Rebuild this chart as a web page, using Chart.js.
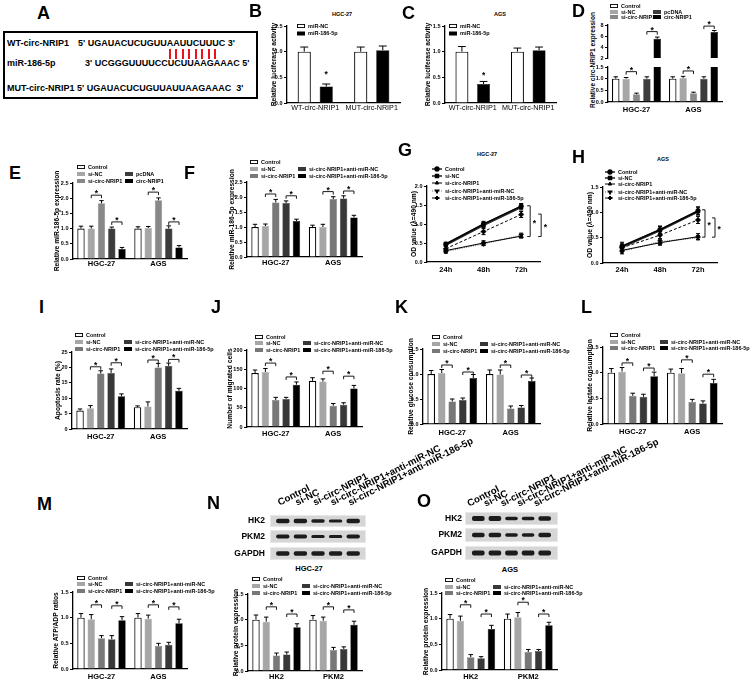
<!DOCTYPE html>
<html><head><meta charset="utf-8">
<script src="https://cdn.jsdelivr.net/npm/chart.js@4.4.1/dist/chart.umd.min.js"></script>
<style>
html,body{margin:0;padding:0;background:#fff}
body{position:relative;width:753px;height:682px;overflow:hidden;font-family:"Liberation Sans",Arial,sans-serif;color:#000}
canvas{position:absolute}
.lt{position:absolute;font-weight:bold;font-size:18px;line-height:18px}
.tt{position:absolute;font-weight:bold;font-size:5.5px;line-height:6px;transform:translate(-50%,-50%);white-space:nowrap}
#boxA{position:absolute;left:3px;top:31px;width:251px;height:64px;border:2px solid #000}
.sq{position:absolute;font-weight:bold;font-size:9px;line-height:9px;white-space:nowrap}
.pr{position:relative;display:inline-block}
.pr::after{content:"";position:absolute;left:50%;margin-left:-1px;top:9.5px;width:2px;height:10.5px;background:#e8141c}
</style></head><body>
<div id="boxA"></div>
<div class="sq" style="left:7px;top:39px">WT-circ-NRIP1</div>
<div class="sq" style="left:78px;top:39px">5' UGAUACUCUGUU<span class="pr">A</span><span class="pr">A</span><span class="pr">U</span><span class="pr">U</span><span class="pr">C</span><span class="pr">U</span><span class="pr">U</span><span class="pr">U</span>C 3'</div>
<div class="sq" style="left:7px;top:59px">miR-186-5p</div>
<div class="sq" style="left:85px;top:59px">3' UCGGGUUUUCCUCUUAAGAAAC 5'</div>
<div class="sq" style="left:7px;top:83.5px">MUT-circ-NRIP1</div>
<div class="sq" style="left:77px;top:83.5px">5' UGAUACUCUGUUAUUAAGAAAC&nbsp; 3'</div>

<div class="tt" style="left:342px;top:14px">HGC-27</div>
<div class="tt" style="left:500px;top:14px">AGS</div>
<div class="tt" style="left:487px;top:154px">HGC-27</div>
<div class="tt" style="left:663px;top:159px">AGS</div>
<div class="tt" style="left:593px;top:60px;font-size:6.5px;transform:translate(-50%,-50%) rotate(-90deg)">Relative circ-NRIP1 expression</div>
<div class="tt" style="left:309px;top:568.5px;font-size:7.5px;line-height:8px">HGC-27</div>
<div class="tt" style="left:510px;top:569.5px;font-size:7.5px;line-height:8px">AGS</div>

<script>
// ================= DATA =================
const lucGroups = ['WT-circ-NRIP1','MUT-circ-NRIP1'];
const lucSeries = ['miR-NC','miR-186-5p'];
const cells = ['HGC-27','AGS'];
const proteins = ['HK2','PKM2'];
const times = ['24h','48h','72h'];
const seriesD = ['Control','si-NC','si-circ-NRIP1','pcDNA','circ-NRIP1'];
const seriesR = ['Control','si-NC','si-circ-NRIP1','si-circ-NRIP1+anti-miR-NC','si-circ-NRIP1+anti-miR-186-5p'];

// tick labels
const yt_luc = [0,0.5,1,1.5];
const yt_Dtop = [2,4,6,8];
const yt_Dbot = [0,0.5,1,1.5];
const yt_E = [0,0.5,1,1.5,2,2.5];
const yt_G = [0,0.5,1,1.5,2];
const yt_H = [0,0.5,1,1.5];
const yt_I = [0,5,10,15,20,25];
const yt_J = [0,50,100,150,200];
const yt_15 = [0,0.5,1,1.5];

// values: one row per series, one column per group
const B_vals = [[1.00,1.00],[0.32,1.03]];
const B_errs = [[0.09,0.09],[0.05,0.08]];
const C_vals = [[1.00,1.00],[0.37,1.03]];
const C_errs = [[0.10,0.07],[0.05,0.06]];
const D_vals = [[1.00,1.00],[1.00,1.03],[0.33,0.38],[1.00,1.00],[5.50,6.75]];
const D_errs = [[0.08,0.08],[0.05,0.07],[0.05,0.04],[0.08,0.08],[0.30,0.25]];
const E_vals = [[1.00,1.00],[1.00,1.02],[1.83,1.93],[1.00,1.00],[0.33,0.38]];
const E_errs = [[0.08,0.06],[0.08,0.05],[0.09,0.08],[0.05,0.09],[0.05,0.06]];
const F_vals = [[1.00,1.00],[1.03,1.00],[1.82,1.93],[1.80,1.95],[1.20,1.32]];
const F_errs = [[0.09,0.06],[0.07,0.09],[0.10,0.08],[0.07,0.09],[0.06,0.07]];
const G_vals = [[0.47,1.00,1.47],[0.46,0.98,1.45],[0.30,0.50,0.68],[0.28,0.48,0.70],[0.35,0.80,1.25]];
const G_errs = [[0.05,0.07,0.07],[0.05,0.07,0.08],[0.05,0.06,0.05],[0.05,0.05,0.06],[0.07,0.08,0.08]];
const H_vals = [[0.33,0.66,1.03],[0.32,0.65,1.02],[0.25,0.40,0.52],[0.23,0.42,0.50],[0.30,0.55,0.85]];
const H_errs = [[0.08,0.07,0.08],[0.07,0.07,0.07],[0.05,0.05,0.06],[0.05,0.05,0.04],[0.06,0.07,0.07]];
const I_vals = [[6.0,7.1],[6.7,7.3],[18.0,20.0],[18.2,20.5],[10.6,12.4]];
const I_errs = [[0.5,0.4],[0.9,1.5],[0.9,1.3],[1.3,0.9],[0.8,0.8]];
const J_vals = [[140,120],[143,118],[70,55],[73,58],[110,100]];
const J_errs = [[8,8],[9,7],[7,6],[4,5],[7,8]];
const K_vals = [[1.00,1.00],[1.02,0.99],[0.45,0.31],[0.48,0.33],[0.92,0.86]];
const K_errs = [[0.07,0.08],[0.07,0.09],[0.05,0.05],[0.04,0.04],[0.07,0.06]];
const L_vals = [[1.00,1.00],[1.02,0.99],[0.55,0.43],[0.53,0.40],[0.93,0.80]];
const L_errs = [[0.08,0.07],[0.08,0.09],[0.05,0.05],[0.05,0.05],[0.08,0.07]];
const M_vals = [[1.00,1.00],[0.97,0.98],[0.60,0.45],[0.58,0.47],[0.95,0.89]];
const M_errs = [[0.08,0.08],[0.09,0.07],[0.05,0.05],[0.07,0.05],[0.07,0.08]];
const N_vals = [[1.00,1.00],[0.96,0.98],[0.30,0.41],[0.32,0.43],[0.85,0.90]];
const N_errs = [[0.09,0.08],[0.09,0.07],[0.05,0.05],[0.05,0.04],[0.07,0.07]];
const O_vals = [[1.00,1.00],[0.96,1.03],[0.25,0.35],[0.23,0.37],[0.80,0.87]];
const O_errs = [[0.08,0.09],[0.09,0.09],[0.05,0.05],[0.03,0.03],[0.07,0.06]];

// significance brackets: [group, seriesA, seriesB, value]
const D_brTop = [[0,3,4,6.8],[1,3,4,7.8]];
const D_brBot = [[0,1,2,1.3],[1,1,2,1.33]];
const E_br = [[0,1,2,2.1],[0,3,4,1.22],[1,1,2,2.2],[1,3,4,1.22]];
const F_br = [[0,1,2,2.1],[0,3,4,2.04],[1,1,2,2.18],[1,3,4,2.2]];
const I_br = [[0,1,2,20.2],[0,3,4,21.5],[1,1,2,22.4],[1,3,4,22.6]];
const J_br = [[0,1,2,166],[0,3,4,130],[1,1,2,145],[1,3,4,132]];
const K_br = [[0,1,2,1.18],[0,3,4,1.04],[1,1,2,1.18],[1,3,4,0.98]];
const L_br = [[0,1,2,1.19],[0,3,4,1.09],[1,1,2,1.25],[1,3,4,0.97]];
const M_br = [[0,1,2,1.25],[0,3,4,1.23],[1,1,2,1.25],[1,3,4,1.21]];
const N_br = [[0,1,2,1.25],[0,3,4,1.11],[1,1,2,1.25],[1,3,4,1.19]];
const O_br = [[0,1,2,1.27],[0,3,4,1.09],[1,1,2,1.32],[1,3,4,1.09]];
// single stars: [group, series, value]
const B_star = [[0,1,0.6]];
const C_star = [[0,1,0.58]];
// vertical brackets on line charts: [offset px, from value, to value]
const G_vb = [[9,1.48,0.67],[20,1.26,0.67]];
const H_vb = [[7,1.05,0.51],[17,0.89,0.51]];

// western blot band thickness per lane
const N_HK2 = [0.38,0.38,0.28,0.26,0.36];
const N_PKM2 = [0.32,0.30,0.24,0.24,0.32];
const N_GAPDH = [0.34,0.34,0.34,0.34,0.34];
const O_HK2 = [0.38,0.38,0.28,0.28,0.36];
const O_PKM2 = [0.32,0.32,0.24,0.26,0.32];
const O_GAPDH = [0.34,0.34,0.34,0.34,0.34];

// ================= STYLE =================
const lucColors = ['#ffffff','#000000'];
const dColors = ['#ffffff','#a6a6a6','#888888','#3c3c3c','#000000'];
const rColors = ['#ffffff','#a6a6a6','#787878','#383838','#000000'];
const lineStyles = [
  {borderColor:'#000', borderWidth:1.3, pointStyle:'circle', pointRadius:2.3},
  {borderColor:'#2a2a2a', borderWidth:2.6, pointStyle:'rect', pointRadius:2.6},
  {borderColor:'#000', borderWidth:1, pointStyle:'triangle', pointRadius:2.7},
  {borderColor:'#666', borderWidth:1.2, borderDash:[1,1.3], pointStyle:'triangle', pointRotation:180, pointRadius:2.7},
  {borderColor:'#000', borderWidth:1, borderDash:[3,2], pointStyle:'rectRot', pointRadius:2.7}
];
const FAM = "'Liberation Sans', Arial, sans-serif";
Chart.defaults.font.family = FAM;
Chart.defaults.color = '#000';

function mk(x,y,w,h){
  const c=document.createElement('canvas'); c.width=w; c.height=h;
  c.style.left=x+'px'; c.style.top=y+'px'; c.style.width=w+'px'; c.style.height=h+'px';
  document.body.appendChild(c); return c;
}
function drawStar(ctx,x,yc){
  ctx.save(); ctx.fillStyle='#000'; ctx.font='bold 8.5px '+FAM; ctx.textAlign='center'; ctx.textBaseline='alphabetic';
  ctx.fillText('*',x,yc+4.6); ctx.restore();
}
const deco = {
  id:'deco',
  afterDatasetsDraw(chart){
    const o = chart.options.plugins.deco; if(!o) return;
    const ctx = chart.ctx, ca = chart.chartArea, ys = chart.scales.y;
    ctx.save();
    ctx.beginPath(); ctx.rect(ca.left-30, ca.top-0.5, ca.right-ca.left+60, ca.bottom-ca.top+0.5); ctx.clip();
    ctx.strokeStyle='#000'; ctx.lineWidth=1;
    (o.errors||[]).forEach((arr,di)=>{
      const meta = chart.getDatasetMeta(di), vals = chart.data.datasets[di].data;
      meta.data.forEach((el,i)=>{
        const v = vals[i], e = arr[i], x = el.x;
        const yt = ys.getPixelForValue(v+e);
        const cw = o.both ? 4 : el.width*0.6;
        ctx.beginPath();
        if(o.both){ const yb = ys.getPixelForValue(v-e); ctx.moveTo(x,yb); ctx.lineTo(x,yt); ctx.moveTo(x-cw/2,yb); ctx.lineTo(x+cw/2,yb); }
        else { ctx.moveTo(x,el.y); ctx.lineTo(x,yt); }
        ctx.moveTo(x-cw/2,yt); ctx.lineTo(x+cw/2,yt);
        ctx.stroke();
      });
    });
    ctx.restore();
    ctx.save(); ctx.strokeStyle='#000'; ctx.lineWidth=0.9;
    (o.brackets||[]).forEach(([g,a,b,v])=>{
      const xa = chart.getDatasetMeta(a).data[g].x, xb = chart.getDatasetMeta(b).data[g].x;
      const y = ys.getPixelForValue(v);
      ctx.beginPath(); ctx.moveTo(xa,y+3); ctx.lineTo(xa,y); ctx.lineTo(xb,y); ctx.lineTo(xb,y+3); ctx.stroke();
      drawStar(ctx,(xa+xb)/2,y-3.6);
    });
    (o.stars||[]).forEach(([g,d,v])=>{
      drawStar(ctx, chart.getDatasetMeta(d).data[g].x, ys.getPixelForValue(v));
    });
    (o.vb||[]).forEach(([off,v1,v2])=>{
      const pts = chart.getDatasetMeta(0).data; const x = pts[pts.length-1].x + off;
      const y1 = ys.getPixelForValue(v1), y2 = ys.getPixelForValue(v2);
      ctx.beginPath(); ctx.moveTo(x-3,y1); ctx.lineTo(x,y1); ctx.lineTo(x,y2); ctx.lineTo(x-3,y2); ctx.stroke();
      ctx.fillStyle='#000'; ctx.font='bold 8.5px '+FAM; ctx.textAlign='left'; ctx.textBaseline='alphabetic';
      ctx.fillText('*', x+2.5, (y1+y2)/2+4.6);
    });
    ctx.restore();
  },
  afterDraw(chart){
    const o = chart.options.plugins.deco; if(!o || !o.legend) return;
    const ctx = chart.ctx, [ox,oy] = o.origin;
    ctx.save();
    ctx.font='bold 5.5px '+FAM; ctx.textBaseline='middle'; ctx.textAlign='left';
    o.legend.forEach(([di,px,py])=>{
      const ds = chart.data.datasets[di]; const x = px-ox, y = py-oy;
      if(o.kind==='line'){
        ctx.save(); ctx.strokeStyle = ds.borderColor; ctx.lineWidth = Math.min(ds.borderWidth,1.6);
        ctx.setLineDash(ds.borderDash||[]); ctx.beginPath(); ctx.moveTo(x-5,y); ctx.lineTo(x+5,y); ctx.stroke();
        ctx.setLineDash([]); ctx.fillStyle='#000'; ctx.strokeStyle='#000';
        Chart.helpers.drawPoint(ctx,{pointStyle:ds.pointStyle, rotation:ds.pointRotation||0, radius:2, borderWidth:0.5},x,y);
        ctx.restore();
        ctx.fillStyle='#000'; ctx.fillText(ds.label, x+8, y);
      } else {
        ctx.fillStyle = ds.backgroundColor; ctx.fillRect(x,y-2,8,4);
        if(di===0){ ctx.strokeStyle='#000'; ctx.lineWidth=0.9; ctx.strokeRect(x+0.45,y-1.55,7.1,3.1); }
        ctx.fillStyle='#000'; ctx.fillText(ds.label, x+11, y);
      }
    });
    ctx.restore();
  }
};
function yAxis(ticksArr, dec, title, W){
  return {
    type:'linear', min:ticksArr[0], max:ticksArr[ticksArr.length-1],
    afterBuildTicks: s => { s.ticks = ticksArr.map(v=>({value:v})); },
    afterFit: s => { s.width = W; s.paddingTop = 0; s.paddingBottom = 0; },
    ticks:{font:{size:5.5, weight:'bold'}, color:'#000', padding:1.5, callback:v=>Number(v).toFixed(dec)},
    grid:{display:true, drawOnChartArea:false, drawTicks:true, tickLength:3, color:'#000', lineWidth:1},
    border:{display:true, color:'#000', width:1.3},
    title: title ? {display:true, text:title, font:{size:6.7, weight:'bold'}, color:'#000', padding:0} : {display:false}
  };
}
function xAxis(font, xo, Hx, display){
  return {
    type:'category', offset:true, display:display,
    afterFit: s => { if(display) s.height = Hx; s.paddingLeft = 0; s.paddingRight = 0; },
    grid:{display:false, drawTicks:false}, border:{display:true, color:'#000', width:1.3},
    ticks:{font:font, color:'#000', padding:xo - font.size*0.6, maxRotation:0, minRotation:0, autoSkip:false}
  };
}
function geom(p){
  const W = p.yl != null ? Math.round(p.L - (p.yl - 4)) : (p.W || 22);
  const cx = p.L - W;
  const padTop = p.padTop ?? 40, padRight = p.padRight ?? 70, padBottom = p.padBottom ?? 14;
  const Hx = p.xDisplay === false ? 0 : 14;
  const cy = p.T - padTop;
  return {W, cx, cy, padTop, padRight, padBottom, Hx, w: p.R - cx + padRight, h: p.B - cy + Hx + padBottom};
}
function barPanel(p){
  const g = geom(p);
  const cv = mk(g.cx, g.cy, g.w, g.h);
  const datasets = p.series.map((name,i)=>({
    label:name, data:p.vals[i], backgroundColor:p.colors[i],
    borderColor: i===0 ? '#000' : p.colors[i], borderWidth: i===0 ? 1.2 : 0.5,
    borderSkipped:'start', categoryPercentage:p.cat ?? 0.9, barPercentage:p.bar ?? 0.72
  }));
  new Chart(cv, {
    type:'bar', data:{labels:p.labels, datasets},
    options:{
      responsive:false, animation:false, events:[],
      layout:{padding:{top:g.padTop, right:g.padRight, bottom:g.padBottom, left:0}},
      plugins:{legend:{display:false}, tooltip:{enabled:false},
        deco:{errors:p.errs, brackets:p.brackets, stars:p.stars, legend:p.legend, kind:'box', origin:[g.cx,g.cy]}},
      scales:{
        x: xAxis(p.xfont || {size:7.5, weight:'bold'}, p.xo ?? 7.5, g.Hx, p.xDisplay !== false),
        y: yAxis(p.ticks, p.dec ?? 1, p.title, g.W)
      }
    },
    plugins:[deco]
  });
}
function linePanel(p){
  const g = geom(p);
  const cv = mk(g.cx, g.cy, g.w, g.h);
  const datasets = p.series.map((name,i)=>Object.assign({
    label:name, data:p.vals[i], fill:false, tension:0,
    pointBackgroundColor:'#000', pointBorderColor:'#000', pointBorderWidth:0.5
  }, lineStyles[i]));
  new Chart(cv, {
    type:'line', data:{labels:p.labels, datasets},
    options:{
      responsive:false, animation:false, events:[],
      layout:{padding:{top:g.padTop, right:g.padRight, bottom:g.padBottom, left:0}},
      plugins:{legend:{display:false}, tooltip:{enabled:false},
        deco:{errors:p.errs, both:true, vb:p.vb, legend:p.legend, kind:'line', origin:[g.cx,g.cy]}},
      scales:{
        x: xAxis({size:7.5, weight:'bold'}, p.xo ?? 7.5, g.Hx, true),
        y: yAxis(p.ticks, p.dec ?? 1, p.title, g.W)
      }
    },
    plugins:[deco]
  });
}
const stripBg = {
  id:'stripBg',
  beforeDatasetsDraw(chart){
    const ca = chart.chartArea, ctx = chart.ctx, e = chart.options.plugins.stripBg.ext;
    ctx.save(); ctx.fillStyle='#d6d6d6'; ctx.fillRect(ca.left-e, ca.top, ca.right-ca.left+2*e, ca.bottom-ca.top);
    ctx.strokeStyle='#e8e8e8'; ctx.lineWidth=1; ctx.strokeRect(ca.left-e+0.5, ca.top+0.5, ca.right-ca.left+2*e-1, ca.bottom-ca.top-1);
    ctx.restore();
  }
};
function blotStrip(p){
  const W = 45, cx = p.L - W;
  const Hx = p.top ? 92 : 0, padRight = p.top ? 135 : 10, padBottom = 2;
  const cy = p.T - Hx;
  const cv = mk(cx, cy, p.R - cx + padRight, p.B - cy + padBottom);
  new Chart(cv, {
    type:'bar',
    data:{labels:seriesR, datasets:[{data:p.bands.map(t=>[-t,t]), backgroundColor:'#1c1c1c', borderRadius:2, borderSkipped:false, categoryPercentage:1, barPercentage:0.76}]},
    options:{
      responsive:false, animation:false, events:[],
      layout:{padding:{top:0, right:padRight, bottom:padBottom, left:0}},
      plugins:{legend:{display:false}, tooltip:{enabled:false}, stripBg:{ext:p.ext}},
      scales:{
        x:{type:'category', offset:true, display:!!p.top, position:'top',
           afterFit:s=>{ if(p.top) s.height=Hx; s.paddingLeft=0; s.paddingRight=0; },
           grid:{display:false, drawTicks:false}, border:{display:false},
           ticks:{minRotation:27, maxRotation:27, autoSkip:false, padding:p.labelPad||0, labelOffset:p.labelOffset||0, font:{size:9.7, weight:'bold'}, color:'#000'}},
        y:{type:'linear', min:-1, max:1,
           afterBuildTicks:s=>{ s.ticks=[{value:0}]; },
           afterFit:s=>{ s.width=W; s.paddingTop=0; s.paddingBottom=0; },
           ticks:{callback:()=>p.name, font:{size:8.5, weight:'bold'}, color:'#000', padding:p.yPad},
           grid:{display:false, drawTicks:false}, border:{display:false}}
      }
    },
    plugins:[stripBg]
  });
}
const leg5 = (x1,x2,r)=>[[0,x1,r[0]],[1,x1,r[1]],[2,x1,r[2]],[3,x2,r[1]],[4,x2,r[2]]];
const legLine = (x,r)=>r.map((y,i)=>[i,x,y]);

// ================= PANELS =================
barPanel({L:287,T:26,R:400,B:103,yl:274, labels:lucGroups, series:lucSeries, vals:B_vals, errs:B_errs, colors:lucColors,
  cat:0.78, bar:0.6, ticks:yt_luc, dec:1, title:'Relative luciferase activity', xfont:{size:7.2, weight:'normal'}, xo:5.5,
  stars:B_star, legend:[[0,297,26],[1,297,33.5]], padTop:26, padRight:14});
barPanel({L:445,T:26,R:556,B:103,yl:428, labels:lucGroups, series:lucSeries, vals:C_vals, errs:C_errs, colors:lucColors,
  cat:0.78, bar:0.6, ticks:yt_luc, dec:1, title:'Relative luciferase activity', xfont:{size:7.2, weight:'normal'}, xo:5.5,
  stars:C_star, legend:[[0,449,26],[1,449,33.5]], padTop:26, padRight:14});
barPanel({L:608,T:25,R:722,B:58,W:22, xDisplay:false, labels:cells, series:seriesD, vals:D_vals, errs:D_errs, colors:dColors,
  cat:0.91, bar:0.72, ticks:yt_Dtop, dec:0, padTop:25, padBottom:6, padRight:30, brackets:D_brTop, legend:leg5(610,653,[6,12,17])});
barPanel({L:608,T:67,R:722,B:102,W:22, labels:cells, series:seriesD, vals:D_vals, errs:D_errs, colors:dColors,
  cat:0.91, bar:0.72, ticks:yt_Dbot, dec:1, padTop:6, padRight:30, xo:8, brackets:D_brBot});

barPanel({L:73,T:183,R:187,B:259,yl:57, labels:cells, series:seriesD, vals:E_vals, errs:E_errs, colors:dColors,
  ticks:yt_E, dec:1, title:'Relative miR-186-5p expression', xo:5, brackets:E_br, legend:leg5(77,125,[167,174,181])});
barPanel({L:247,T:182,R:362,B:257,yl:232, labels:cells, series:seriesR, vals:F_vals, errs:F_errs, colors:rColors,
  ticks:yt_E, dec:1, title:'Relative miR-186-5p expression', xo:6.3, brackets:F_br, legend:leg5(250,298,[162,169,176])});
linePanel({L:427,T:186,R:540,B:262,yl:414, labels:times, series:seriesR, vals:G_vals, errs:G_errs, ticks:yt_G, dec:1,
  title:'OD value (\u03bb=490 nm)', xo:8, vb:G_vb, legend:legLine(437,[169,176,183,191,198]), padRight:30});
linePanel({L:603,T:187,R:717,B:263,yl:590, labels:times, series:seriesR, vals:H_vals, errs:H_errs, ticks:yt_H, dec:1,
  title:'OD value (\u03bb=490 nm)', xo:7, vb:H_vb, legend:legLine(610,[172,178,184,192,198]), padRight:30});

barPanel({L:72,T:352,R:187,B:429,yl:58, labels:cells, series:seriesR, vals:I_vals, errs:I_errs, colors:rColors,
  ticks:yt_I, dec:0, title:'Apoptosis rate (%)', xo:7.5, brackets:I_br, legend:leg5(75,124,[335,342,349])});
barPanel({L:247,T:350,R:362,B:427,yl:230, labels:cells, series:seriesR, vals:J_vals, errs:J_errs, colors:rColors,
  ticks:yt_J, dec:0, title:'Number of migrated cells', xo:7, brackets:J_br, legend:leg5(255,303,[337,343,350])});
barPanel({L:423,T:349,R:540,B:424,yl:411, labels:cells, series:seriesR, vals:K_vals, errs:K_errs, colors:rColors,
  ticks:yt_15, dec:1, title:'Relative glucose consumption', xo:8.5, brackets:K_br, legend:leg5(432,480,[337,344,351])});
barPanel({L:603,T:347,R:722,B:424,yl:590, labels:cells, series:seriesR, vals:L_vals, errs:L_errs, colors:rColors,
  ticks:yt_15, dec:1, title:'Relative lactate consumption', xo:7.7, brackets:L_br, legend:leg5(610,660,[335,342,348]), padRight:31});

barPanel({L:73,T:592,R:187,B:669,yl:56, labels:cells, series:seriesR, vals:M_vals, errs:M_errs, colors:rColors,
  ticks:yt_15, dec:1, title:'Relative ATP/ADP ratios', xo:7.7, brackets:M_br, legend:leg5(77,125,[578,584,591])});
barPanel({L:248,T:594,R:362,B:671,yl:236, labels:proteins, series:seriesR, vals:N_vals, errs:N_errs, colors:rColors,
  ticks:yt_15, dec:1, title:'Relative protein expression', xo:6, brackets:N_br, legend:leg5(252,302,[579,586,593])});
barPanel({L:442,T:593,R:557,B:670,yl:426, labels:proteins, series:seriesR, vals:O_vals, errs:O_errs, colors:rColors,
  ticks:yt_15, dec:1, title:'Relative protein expression', xo:7, brackets:O_br, legend:leg5(445,493,[580,587,593])});

// western blots
blotStrip({L:274,R:362,T:515,B:527,name:'HK2',bands:N_HK2,top:true,labelPad:6.5,labelOffset:1,yPad:9,ext:4});
blotStrip({L:274,R:362,T:530,B:543,name:'PKM2',bands:N_PKM2,yPad:9,ext:4});
blotStrip({L:274,R:362,T:547,B:560,name:'GAPDH',bands:N_GAPDH,yPad:9,ext:4});
blotStrip({L:470,R:553,T:512,B:525,name:'HK2',bands:O_HK2,top:true,labelPad:2.5,labelOffset:-5,yPad:8,ext:5});
blotStrip({L:470,R:553,T:528,B:542,name:'PKM2',bands:O_PKM2,yPad:8,ext:5});
blotStrip({L:470,R:553,T:546,B:560,name:'GAPDH',bands:O_GAPDH,yPad:8,ext:5});

// panel letters
const letters = [['A',37,6],['B',249,4],['C',402,6],['D',572,4],['E',9,166],['F',184,166],['G',398,143],['H',572,150],
  ['I',39,300],['J',211,300],['K',395,300],['L',581,300],['M',37,497],['N',207,496],['O',417,494]];
letters.forEach(([t,x,y])=>{ const d=document.createElement('div'); d.className='lt'; d.textContent=t; d.style.left=x+'px'; d.style.top=(y-2.3)+'px'; document.body.appendChild(d); });
</script>
</body></html>
